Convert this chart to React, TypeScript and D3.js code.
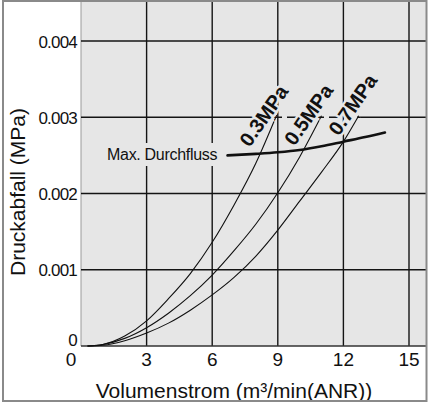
import { useEffect, useRef } from "react";
import * as d3 from "d3";

// Druckabfall-Kennlinien (Volumenstrom in m³/min(ANR), Druckabfall in MPa)
const X_TICKS = [0, 3, 6, 9, 12, 15];
const Y_TICKS = [0, 0.001, 0.002, 0.003, 0.004];
const Y_TICK_LABELS = ["0", "0.001", "0.002", "0.003", "0.004"];

const CURVE_03: [number, number][] = [
  [0.3, 0], [1, 0.00002], [2, 0.00013], [3, 0.00033], [4, 0.00062],
  [5, 0.00095], [6, 0.00136], [7, 0.00185], [8, 0.0024], [8.95, 0.00303],
];
const CURVE_05: [number, number][] = [
  [0.3, 0], [1, 0.00002], [2, 0.0001], [3, 0.00024], [4, 0.00043],
  [5, 0.00066], [6, 0.00093], [7, 0.00125], [8, 0.0016], [9, 0.00201],
  [10, 0.00248], [11, 0.00302],
];
const CURVE_07: [number, number][] = [
  [0.3, 0], [1, 0.00001], [2, 0.00007], [3, 0.00017], [4, 0.0003],
  [5, 0.00047], [6, 0.00067], [7, 0.0009], [8, 0.00118], [9, 0.00152],
  [10, 0.0019], [11, 0.00228], [12, 0.00268], [12.7, 0.00302],
];
const MAX_FLOW: [number, number][] = [
  [6.7, 0.0025], [8, 0.00252], [9, 0.00254], [10, 0.00257],
  [11, 0.00262], [12, 0.00268], [13, 0.00274], [13.9, 0.0028],
];
const CURVE_LABELS = ["0.3MPa", "0.5MPa", "0.7MPa"];

const W = 428;
const H = 403;
const M = { left: 81, right: 19, top: 41, bottom: 57 };
const BG = "#e6e6e6";
const FONT = "'Liberation Sans', Arial, Helvetica, sans-serif";
// label placement relative to the end of each curve (px)
const LABEL_OFFSET = [
  { dx: -27, dy: 33 },
  { dx: -27, dy: 31 },
  { dx: -20, dy: 21 },
];

export default function App() {
  const ref = useRef<SVGSVGElement>(null);

  useEffect(() => {
    if (!ref.current) return;
    const svg = d3.select(ref.current);
    svg.selectAll("*").remove();

    const x = d3.scaleLinear().domain([0, 15]).range([M.left, W - M.right]);
    const y = d3.scaleLinear().domain([0, 0.004]).range([H - M.bottom, M.top]);
    const y0 = y(0);
    const plotTop = 2;
    const plotRight = 426;

    // plot background
    svg.append("rect")
      .attr("x", x(0)).attr("y", plotTop)
      .attr("width", plotRight - x(0)).attr("height", y0 - plotTop)
      .attr("fill", BG);
    svg.append("line")
      .attr("x1", x(0)).attr("x2", x(0)).attr("y1", plotTop).attr("y2", y0)
      .attr("stroke", "#9a9a9a").attr("stroke-width", 1);

    const grid = svg.append("g").attr("stroke", "#141414").attr("stroke-width", 1.4);
    X_TICKS.filter((t) => t > 0).forEach((t) => {
      grid.append("line")
        .attr("x1", x(t)).attr("x2", x(t)).attr("y1", plotTop).attr("y2", y0);
    });
    Y_TICKS.filter((t) => t > 0).forEach((t) => {
      if (t === 0.003) {
        grid.append("line").attr("x1", x(0)).attr("x2", x(7.5)).attr("y1", y(t)).attr("y2", y(t));
        grid.append("line").attr("x1", x(7.5)).attr("x2", x(12.8)).attr("y1", y(t)).attr("y2", y(t))
          .attr("stroke-dasharray", "9,5");
        grid.append("line").attr("x1", x(12.8)).attr("x2", plotRight).attr("y1", y(t)).attr("y2", y(t));
      } else {
        grid.append("line").attr("x1", x(0)).attr("x2", plotRight).attr("y1", y(t)).attr("y2", y(t));
      }
    });
    // x axis line
    svg.append("line")
      .attr("x1", x(0)).attr("x2", plotRight).attr("y1", y0).attr("y2", y0)
      .attr("stroke", "#333").attr("stroke-width", 1.6);

    // tick labels
    svg.append("g").selectAll("text").data(Y_TICKS).join("text")
      .attr("x", 77)
      .attr("y", (d) => (d === 0 ? y0 : y(d) + 6.5))
      .attr("text-anchor", "end")
      .attr("font-family", FONT).attr("font-size", 17).attr("letter-spacing", -0.8)
      .attr("fill", "#111")
      .text((_, i) => Y_TICK_LABELS[i]);
    svg.append("g").selectAll("text").data(X_TICKS).join("text")
      .attr("x", (d) => (d === 0 ? x(d) - 10 : x(d)))
      .attr("y", y0 + 20)
      .attr("text-anchor", "middle")
      .attr("font-family", FONT).attr("font-size", 19)
      .attr("fill", "#111")
      .text((d) => String(d));

    // axis titles
    svg.append("text")
      .attr("transform", `translate(25,192) rotate(-90)`)
      .attr("text-anchor", "middle")
      .attr("font-family", FONT).attr("font-size", 21).attr("fill", "#111")
      .text("Druckabfall (MPa)");
    svg.append("text")
      .attr("x", 234).attr("y", 398)
      .attr("text-anchor", "middle")
      .attr("font-family", FONT).attr("font-size", 21).attr("fill", "#111")
      .text("Volumenstrom (m³/min(ANR))");

    // curves
    const line = d3.line<[number, number]>()
      .x((d) => x(d[0])).y((d) => y(d[1]))
      .curve(d3.curveMonotoneX);
    [CURVE_03, CURVE_05, CURVE_07].forEach((c) => {
      svg.append("path").datum(c).attr("d", line)
        .attr("fill", "none").attr("stroke", "#111").attr("stroke-width", 1.1);
    });

    // curve labels
    [CURVE_03, CURVE_05, CURVE_07].forEach((c, i) => {
      const end = c[c.length - 1];
      const lx = x(end[0]) + LABEL_OFFSET[i].dx;
      const ly = y(end[1]) + LABEL_OFFSET[i].dy;
      svg.append("text")
        .attr("transform", `translate(${lx},${ly}) rotate(-55)`)
        .attr("font-family", FONT).attr("font-size", 20).attr("font-weight", "bold")
        .attr("fill", "#111")
        .attr("stroke", BG).attr("stroke-width", 5).attr("paint-order", "stroke")
        .text(CURVE_LABELS[i]);
    });

    // max flow label + line
    const lab = svg.append("text")
      .attr("x", 107).attr("y", 160)
      .attr("font-family", FONT).attr("font-size", 16).attr("letter-spacing", -0.3)
      .attr("fill", "#111")
      .text("Max. Durchfluss");
    const bb = (lab.node() as SVGTextElement).getBBox();
    svg.insert("rect", () => lab.node() as SVGTextElement)
      .attr("x", bb.x - 3).attr("y", bb.y - 3)
      .attr("width", bb.width + 6).attr("height", bb.height + 6)
      .attr("fill", BG);
    svg.append("path").datum(MAX_FLOW).attr("d", line)
      .attr("fill", "none").attr("stroke", "#111").attr("stroke-width", 2.6)
      .attr("stroke-linecap", "round");

    // outer frame
    svg.append("rect")
      .attr("x", 3).attr("y", 1).attr("width", 423.5).attr("height", 400)
      .attr("fill", "none").attr("stroke", "#8a8a8a").attr("stroke-width", 2);
  }, []);

  return (
    <svg
      ref={ref}
      width={W}
      height={H}
      style={{ position: "absolute", left: 0, top: 0, background: "#fff" }}
    />
  );
}
